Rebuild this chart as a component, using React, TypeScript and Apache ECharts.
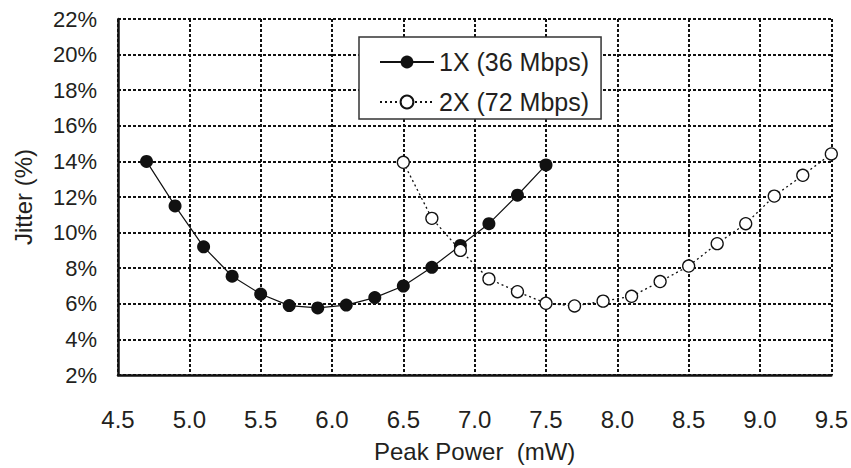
import React, { useEffect, useRef } from "react";
import * as echarts from "echarts";

const power1X = [4.7, 4.9, 5.1, 5.3, 5.5, 5.7, 5.9, 6.1, 6.3, 6.5, 6.7, 6.9, 7.1, 7.3, 7.5];
const jitter1X = [14.0, 11.5, 9.2, 7.55, 6.55, 5.9, 5.77, 5.93, 6.35, 7.0, 8.05, 9.28, 10.5, 12.1, 13.8];

const power2X = [6.5, 6.7, 6.9, 7.1, 7.3, 7.5, 7.7, 7.9, 8.1, 8.3, 8.5, 8.7, 8.9, 9.1, 9.3, 9.5];
const jitter2X = [13.95, 10.8, 9.0, 7.4, 6.68, 6.03, 5.88, 6.15, 6.42, 7.25, 8.12, 9.38, 10.5, 12.05, 13.22, 14.42];

const seriesNames = ["1X (36 Mbps)", "2X (72 Mbps)"];
const xAxisName = "Peak Power  (mW)";
const yAxisName = "Jitter (%)";

const FONT = "'Liberation Sans', Arial, Helvetica, sans-serif";
const INK = "#231f20";

export default function App() {
  const ref = useRef<HTMLDivElement>(null);
  useEffect(() => {
    if (!ref.current) return;
    const chart = echarts.init(ref.current, undefined, { renderer: "svg" });
    const d1 = power1X.map((x, i) => [x, jitter1X[i]]);
    const d2 = power2X.map((x, i) => [x, jitter2X[i]]);
    chart.setOption({
      animation: false,
      backgroundColor: "#ffffff",
      grid: { left: 118, right: 15, top: 19, bottom: 89, containLabel: false },
      legend: {
        orient: "vertical",
        left: 359,
        top: 37,
        padding: [12, 12, 4, 20],
        itemGap: 14,
        itemWidth: 54,
        itemHeight: 16,
        backgroundColor: "#ffffff",
        borderColor: "#333333",
        borderWidth: 1.5,
        borderRadius: 0,
        textStyle: { fontFamily: FONT, fontSize: 25, color: INK, lineHeight: 26 },
        data: seriesNames,
      },
      xAxis: {
        type: "value",
        min: 4.5,
        max: 9.5,
        interval: 0.5,
        name: xAxisName,
        nameLocation: "middle",
        nameGap: 64,
        nameTextStyle: { fontFamily: FONT, fontSize: 24, color: INK },
        axisLine: { show: true, onZero: false, lineStyle: { color: "#111", width: 2.5 } },
        axisTick: { show: false },
        axisLabel: {
          fontFamily: FONT,
          fontSize: 24,
          color: INK,
          margin: 32,
          formatter: (v: number) => v.toFixed(1),
        },
        splitLine: { show: true, lineStyle: { color: "#111", width: 2, type: [3, 2] } },
      },
      yAxis: {
        type: "value",
        min: 2,
        max: 22,
        interval: 2,
        name: yAxisName,
        nameLocation: "middle",
        nameGap: 83,
        nameTextStyle: { fontFamily: FONT, fontSize: 24, color: INK, padding: [0, 0, 0, 0] },
        axisLine: { show: true, onZero: false, lineStyle: { color: "#111", width: 2.5 } },
        axisTick: { show: false },
        axisLabel: {
          fontFamily: FONT,
          fontSize: 22,
          color: INK,
          margin: 21,
          formatter: "{value}%",
        },
        splitLine: { show: true, lineStyle: { color: "#111", width: 2, type: [3, 2] } },
      },
      series: [
        {
          name: seriesNames[0],
          type: "line",
          data: d1,
          symbol: "circle",
          symbolSize: 13,
          itemStyle: { color: "#111111", borderColor: "#111111", borderWidth: 0 },
          lineStyle: { color: "#111111", width: 1.2, type: "solid" },
        },
        {
          name: seriesNames[1],
          type: "line",
          data: d2,
          symbol: "circle",
          symbolSize: 12,
          itemStyle: { color: "#ffffff", borderColor: "#111111", borderWidth: 1.3 },
          lineStyle: { color: "#111111", width: 1.3, type: [2, 3] },
        },
      ],
    });
    return () => chart.dispose();
  }, []);
  return <div ref={ref} style={{ width: 851, height: 468, position: "absolute", left: 0, top: 0 }} />;
}
